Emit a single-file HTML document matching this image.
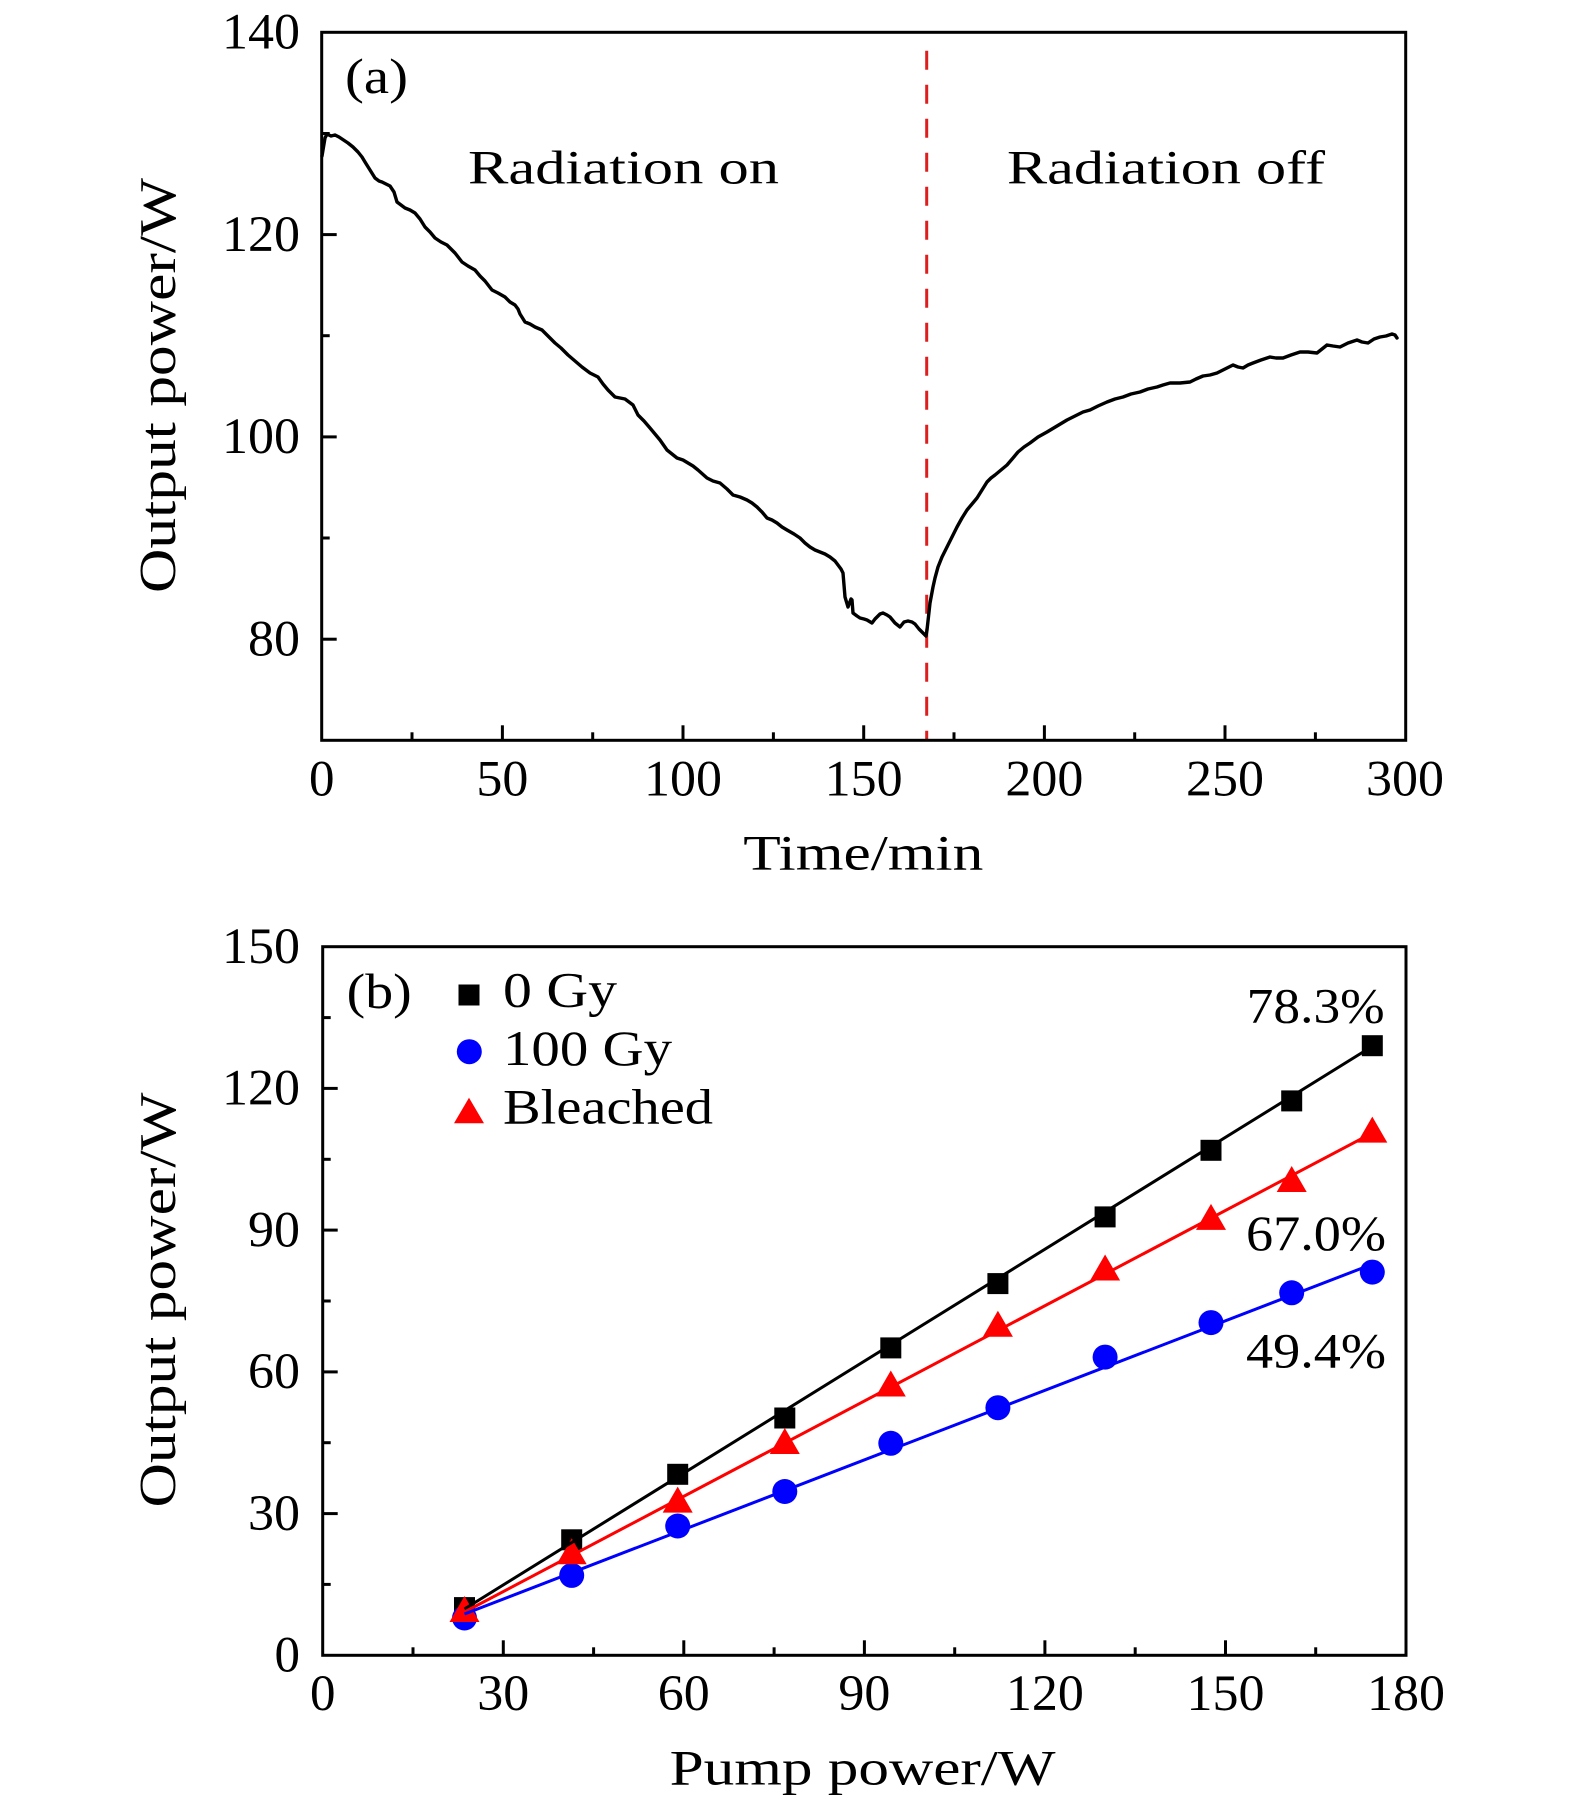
<!DOCTYPE html>
<html>
<head>
<meta charset="utf-8">
<style>
  html,body{margin:0;padding:0;background:#fff;}
  svg{display:block;}
  text{font-family:"Liberation Serif","DejaVu Serif",serif;fill:#000;}
</style>
</head>
<body>
<svg width="1575" height="1801" viewBox="0 0 1575 1801" xmlns="http://www.w3.org/2000/svg">
  <rect x="0" y="0" width="1575" height="1801" fill="#fff"/>

  <!-- ================= Panel (a) ================= -->
  <!-- red dashed line -->
  <line x1="926.7" y1="50.7" x2="926.7" y2="740" stroke="#dc1e1e" stroke-width="3" stroke-dasharray="19 15"/>

  <!-- curve -->
  <polyline fill="none" stroke="#000" stroke-width="3.4" stroke-linejoin="round" stroke-linecap="round"
    points="322,156 323,150 325,138 327,134 331,136 335,135 339,137 342,139 345,141 348,143 353,147 358,152 362,157 365,162 370,170 375,178 379,181 382,182 386,184 390,186 394,192 397,202 401,205 405,208 410,210 415,213 420,219 425,227 430,232 435,238 441,242 447,245 451,249 455,253 462,262 468,266 475,270 480,276 485,281 492,290 498,293 505,297 510,302 515,305 518,309 520,314 525,322 530,324 535,327 542,330 548,336 555,343 561,348 568,355 575,361 582,367 590,373 598,377 603,384 608,390 615,397 620,398 625,399 633,405 638,415 644,421 650,428 655,434 660,440 667,450 672,454 677,458 683,460 688,463 693,466 698,470 707,478 713,481 720,483 727,489 733,495 740,497 747,500 752,503 757,507 762,512 767,518 772,520 777,523 782,527 787,530 794,534 800,538 805,543 810,547 815,550 820,552 825,554 830,557 835,561 838,565 841,569 843,573 844,585 845,597 848,607 851,599 852,600 853,613 857,616 860,618 864,619 867,620 872,623 875,619 877,617 880,614 883,613 887,615 890,617 895,623 900,627 904,622 908,621 912,622 915,624 919,629 922,632 926,636 927,630 930,603 933,587 935,578 938,567 942,557 947,547 952,537 957,527 962,518 967,510 972,504 977,498 982,490 987,482 991,478 995,475 1001,470 1007,465 1013,458 1018,452 1024,447 1030,443 1038,437 1047,432 1057,426 1067,420 1075,416 1083,412 1090,410 1098,406 1107,402 1115,399 1123,397 1131,394 1140,392 1148,389 1157,387 1163,385 1170,383 1180,383 1190,382 1196,379 1203,376 1210,375 1217,373 1225,369 1233,365 1238,367 1243,368 1248,365 1253,363 1261,360 1270,357 1276,358 1283,358 1291,355 1300,352 1308,352 1317,353 1322,349 1327,345 1333,346 1340,347 1348,343 1357,340 1362,342 1368,343 1374,339 1380,337 1386,336 1392,334 1395,335 1397,338"/>

  <!-- axes box -->
  <rect x="321.7" y="32.3" width="1084" height="708" fill="none" stroke="#000" stroke-width="3"/>

  <!-- x ticks (a) -->
  <g stroke="#000" stroke-width="3">
    <line x1="502.4" y1="740.3" x2="502.4" y2="725.3"/>
    <line x1="683" y1="740.3" x2="683" y2="725.3"/>
    <line x1="863.7" y1="740.3" x2="863.7" y2="725.3"/>
    <line x1="1044.4" y1="740.3" x2="1044.4" y2="725.3"/>
    <line x1="1225" y1="740.3" x2="1225" y2="725.3"/>
    <line x1="412" y1="740.3" x2="412" y2="732.3"/>
    <line x1="592.7" y1="740.3" x2="592.7" y2="732.3"/>
    <line x1="773.4" y1="740.3" x2="773.4" y2="732.3"/>
    <line x1="954" y1="740.3" x2="954" y2="732.3"/>
    <line x1="1134.7" y1="740.3" x2="1134.7" y2="732.3"/>
    <line x1="1315.4" y1="740.3" x2="1315.4" y2="732.3"/>
    <!-- y ticks (a) -->
    <line x1="321.7" y1="234.6" x2="336.7" y2="234.6"/>
    <line x1="321.7" y1="436.9" x2="336.7" y2="436.9"/>
    <line x1="321.7" y1="639.2" x2="336.7" y2="639.2"/>
    <line x1="321.7" y1="133.5" x2="329.7" y2="133.5"/>
    <line x1="321.7" y1="335.7" x2="329.7" y2="335.7"/>
    <line x1="321.7" y1="538" x2="329.7" y2="538"/>
  </g>

  <!-- tick labels (a) -->
  <g font-size="51">
    <text x="300" y="48.5" text-anchor="end" textLength="78" lengthAdjust="spacingAndGlyphs">140</text>
    <text x="300" y="250.8" text-anchor="end" textLength="78" lengthAdjust="spacingAndGlyphs">120</text>
    <text x="300" y="453.1" text-anchor="end" textLength="78" lengthAdjust="spacingAndGlyphs">100</text>
    <text x="300" y="655.4" text-anchor="end" textLength="52" lengthAdjust="spacingAndGlyphs">80</text>

    <text x="321.7" y="795.7" text-anchor="middle">0</text>
    <text x="502.4" y="795.7" text-anchor="middle" textLength="52" lengthAdjust="spacingAndGlyphs">50</text>
    <text x="683" y="795.7" text-anchor="middle" textLength="78" lengthAdjust="spacingAndGlyphs">100</text>
    <text x="863.7" y="795.7" text-anchor="middle" textLength="78" lengthAdjust="spacingAndGlyphs">150</text>
    <text x="1044.4" y="795.7" text-anchor="middle" textLength="78" lengthAdjust="spacingAndGlyphs">200</text>
    <text x="1225" y="795.7" text-anchor="middle" textLength="78" lengthAdjust="spacingAndGlyphs">250</text>
    <text x="1405" y="795.7" text-anchor="middle" textLength="78" lengthAdjust="spacingAndGlyphs">300</text>
  </g>

  <text x="345" y="93" font-size="50" textLength="63" lengthAdjust="spacingAndGlyphs">(a)</text>
  <text x="468" y="183.3" font-size="48" textLength="311" lengthAdjust="spacingAndGlyphs">Radiation on</text>
  <text x="1007" y="183.3" font-size="48" textLength="318" lengthAdjust="spacingAndGlyphs">Radiation off</text>

  <text x="743.3" y="869.3" font-size="50" textLength="240" lengthAdjust="spacingAndGlyphs">Time/min</text>
  <text transform="translate(175,385.5) rotate(-90)" text-anchor="middle" font-size="52" textLength="415" lengthAdjust="spacingAndGlyphs">Output power/W</text>

  <!-- ================= Panel (b) ================= -->
  <!-- markers -->
  <g fill="#000">
    <rect x="454" y="1597.1" width="21" height="21"/>
    <rect x="561.2" y="1529.3" width="21" height="21"/>
    <rect x="667.2" y="1463.8" width="21" height="21"/>
    <rect x="774.3" y="1407.5" width="21" height="21"/>
    <rect x="880.3" y="1337.4" width="21" height="21"/>
    <rect x="987.4" y="1273.1" width="21" height="21"/>
    <rect x="1094.6" y="1206.4" width="21" height="21"/>
    <rect x="1200.5" y="1139.8" width="21" height="21"/>
    <rect x="1281.2" y="1090.4" width="21" height="21"/>
    <rect x="1361.8" y="1035.2" width="21" height="21"/>
  </g>
  <g fill="#0000ff">
    <circle cx="464.5" cy="1618" r="12.5"/>
    <circle cx="571.7" cy="1575.4" r="12.5"/>
    <circle cx="677.7" cy="1526" r="12.5"/>
    <circle cx="784.8" cy="1491.5" r="12.5"/>
    <circle cx="890.8" cy="1443.3" r="12.5"/>
    <circle cx="997.9" cy="1407.7" r="12.5"/>
    <circle cx="1105.1" cy="1357.1" r="12.5"/>
    <circle cx="1211" cy="1322.6" r="12.5"/>
    <circle cx="1291.7" cy="1292.8" r="12.5"/>
    <circle cx="1372.3" cy="1272.1" r="12.5"/>
  </g>
  <g fill="#ff0000">
    <polygon points="464.5,1596 449.5,1622 479.5,1622"/>
    <polygon points="571.7,1538.3 556.7,1564.3 586.7,1564.3"/>
    <polygon points="677.7,1486.6 662.7,1512.6 692.7,1512.6"/>
    <polygon points="784.8,1428 769.8,1454 799.8,1454"/>
    <polygon points="890.8,1370.5 875.8,1396.5 905.8,1396.5"/>
    <polygon points="997.9,1310.8 982.9,1336.8 1012.9,1336.8"/>
    <polygon points="1105.1,1254.5 1090.1,1280.5 1120.1,1280.5"/>
    <polygon points="1211,1203.9 1196,1229.9 1226,1229.9"/>
    <polygon points="1291.7,1166 1276.7,1192 1306.7,1192"/>
    <polygon points="1372.3,1116.6 1357.3,1142.6 1387.3,1142.6"/>
  </g>
  <!-- fit lines -->
  <line x1="464.5" y1="1609" x2="1376" y2="1044" stroke="#000" stroke-width="3"/>
  <line x1="464.5" y1="1612" x2="1378" y2="1130" stroke="#ff0000" stroke-width="3"/>
  <line x1="464.5" y1="1614" x2="1378" y2="1262" stroke="#0000ff" stroke-width="3"/>

  <!-- axes box (b) -->
  <rect x="322.7" y="946.7" width="1083.3" height="708.6" fill="none" stroke="#000" stroke-width="3"/>

  <g stroke="#000" stroke-width="3">
    <!-- x major -->
    <line x1="503.3" y1="1655.3" x2="503.3" y2="1640.3"/>
    <line x1="683.8" y1="1655.3" x2="683.8" y2="1640.3"/>
    <line x1="864.4" y1="1655.3" x2="864.4" y2="1640.3"/>
    <line x1="1044.9" y1="1655.3" x2="1044.9" y2="1640.3"/>
    <line x1="1225.5" y1="1655.3" x2="1225.5" y2="1640.3"/>
    <!-- x minor -->
    <line x1="413" y1="1655.3" x2="413" y2="1647.3"/>
    <line x1="593.6" y1="1655.3" x2="593.6" y2="1647.3"/>
    <line x1="774.1" y1="1655.3" x2="774.1" y2="1647.3"/>
    <line x1="954.7" y1="1655.3" x2="954.7" y2="1647.3"/>
    <line x1="1135.2" y1="1655.3" x2="1135.2" y2="1647.3"/>
    <line x1="1315.7" y1="1655.3" x2="1315.7" y2="1647.3"/>
    <!-- y major -->
    <line x1="322.7" y1="1513.6" x2="337.7" y2="1513.6"/>
    <line x1="322.7" y1="1371.9" x2="337.7" y2="1371.9"/>
    <line x1="322.7" y1="1230.1" x2="337.7" y2="1230.1"/>
    <line x1="322.7" y1="1088.4" x2="337.7" y2="1088.4"/>
    <!-- y minor -->
    <line x1="322.7" y1="1584.4" x2="330.7" y2="1584.4"/>
    <line x1="322.7" y1="1442.7" x2="330.7" y2="1442.7"/>
    <line x1="322.7" y1="1301" x2="330.7" y2="1301"/>
    <line x1="322.7" y1="1159.3" x2="330.7" y2="1159.3"/>
    <line x1="322.7" y1="1017.6" x2="330.7" y2="1017.6"/>
  </g>

  <g font-size="51">
    <text x="300" y="1671.5" text-anchor="end">0</text>
    <text x="300" y="1529.8" text-anchor="end" textLength="52" lengthAdjust="spacingAndGlyphs">30</text>
    <text x="300" y="1388.1" text-anchor="end" textLength="52" lengthAdjust="spacingAndGlyphs">60</text>
    <text x="300" y="1246.3" text-anchor="end" textLength="52" lengthAdjust="spacingAndGlyphs">90</text>
    <text x="300" y="1104.6" text-anchor="end" textLength="78" lengthAdjust="spacingAndGlyphs">120</text>
    <text x="300" y="962.9" text-anchor="end" textLength="78" lengthAdjust="spacingAndGlyphs">150</text>

    <text x="322.7" y="1710" text-anchor="middle">0</text>
    <text x="503.3" y="1710" text-anchor="middle" textLength="52" lengthAdjust="spacingAndGlyphs">30</text>
    <text x="683.8" y="1710" text-anchor="middle" textLength="52" lengthAdjust="spacingAndGlyphs">60</text>
    <text x="864.4" y="1710" text-anchor="middle" textLength="52" lengthAdjust="spacingAndGlyphs">90</text>
    <text x="1044.9" y="1710" text-anchor="middle" textLength="78" lengthAdjust="spacingAndGlyphs">120</text>
    <text x="1225.5" y="1710" text-anchor="middle" textLength="78" lengthAdjust="spacingAndGlyphs">150</text>
    <text x="1406" y="1710" text-anchor="middle" textLength="78" lengthAdjust="spacingAndGlyphs">180</text>
  </g>

  <text x="346.7" y="1008" font-size="50" textLength="65" lengthAdjust="spacingAndGlyphs">(b)</text>

  <!-- legend -->
  <rect x="458.5" y="984.5" width="21" height="21" fill="#000"/>
  <circle cx="469.3" cy="1051.7" r="12.5" fill="#0000ff"/>
  <polygon points="469,1097.7 454,1123.3 484,1123.3" fill="#ff0000"/>
  <g font-size="50">
    <text x="503" y="1006.7" textLength="114" lengthAdjust="spacingAndGlyphs">0 Gy</text>
    <text x="503" y="1065" textLength="169" lengthAdjust="spacingAndGlyphs">100 Gy</text>
    <text x="503" y="1123.3" textLength="210" lengthAdjust="spacingAndGlyphs">Bleached</text>
  </g>

  <g font-size="50">
    <text x="1246.7" y="1022.7" textLength="138" lengthAdjust="spacingAndGlyphs">78.3%</text>
    <text x="1246" y="1250" textLength="140" lengthAdjust="spacingAndGlyphs">67.0%</text>
    <text x="1246" y="1367.5" textLength="140" lengthAdjust="spacingAndGlyphs">49.4%</text>
  </g>

  <text x="669.6" y="1784.3" font-size="50" textLength="386" lengthAdjust="spacingAndGlyphs">Pump power/W</text>
  <text transform="translate(175,1300) rotate(-90)" text-anchor="middle" font-size="52" textLength="415" lengthAdjust="spacingAndGlyphs">Output power/W</text>
</svg>
</body>
</html>
